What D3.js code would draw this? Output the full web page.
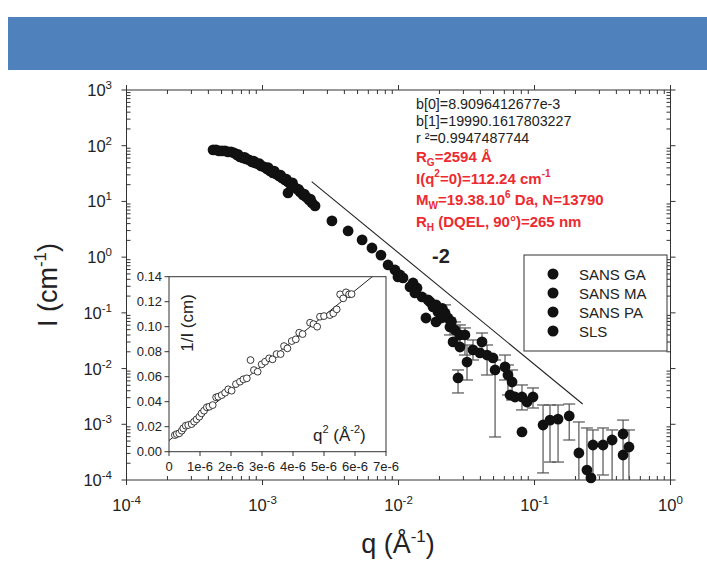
<!DOCTYPE html>
<html><head><meta charset="utf-8">
<script src="https://cdn.jsdelivr.net/npm/d3@7"></script>
<style>body{margin:0;background:#fff} svg{display:block} text{font-family:"Liberation Sans",Arial,sans-serif}</style>
</head><body><svg id="c" width="707" height="563"></svg>
<script>
// ---------- DATA ----------
const seriesNames = ["SANS GA","SANS MA","SANS PA","SLS"];
const xTickExps = [-4,-3,-2,-1,0];
const yTickExps = [-4,-3,-2,-1,0,1,2,3];

const slsQ = [4.33e-4,4.55e-4,4.79e-4,5.04e-4,5.30e-4,5.58e-4,5.87e-4,6.17e-4,6.49e-4,6.83e-4,7.19e-4,7.56e-4,7.96e-4,8.37e-4,8.81e-4,9.27e-4,9.75e-4,1.026e-3,1.079e-3,1.135e-3,1.194e-3,1.257e-3,1.322e-3,1.391e-3,1.463e-3,1.540e-3,1.620e-3,1.705e-3,1.794e-3,1.887e-3,1.986e-3,2.089e-3,2.198e-3,2.312e-3,2.433e-3,
  6.6e-4,7.4e-4,8.6e-4,9.5e-4,1.10e-3,1.22e-3,1.36e-3,1.50e-3,1.54e-3,1.66e-3,1.84e-3,2.03e-3,2.25e-3];
const slsI = [84.1,84.1,80.7,80.7,80.7,77.4,77.4,74.3,68.4,62.9,60.4,58.0,55.6,51.2,49.1,47.1,43.4,41.6,38.4,35.3,32.5,31.2,28.7,26.4,24.3,22.4,19.8,18.2,16.7,14.8,13.1,12.1,10.6,9.40,8.30,
  70.0,62.0,53.0,47.5,40.5,35.0,29.5,25.0,14.2,21.5,16.5,13.5,11.0];

const gaQ = [3.24e-3,4.26e-3,5.40e-3,6.38e-3,7.43e-3];
const gaI = [4.47,2.95,2.04,1.46,1.09];

const maQ  = [8.38e-3,9.42e-3,1.026e-2,1.079e-2,1.216e-2,1.279e-2,1.368e-2,1.489e-2,1.648e-2,1.706e-2,1.592e-2,1.795e-2,1.888e-2,1.95e-2,2.055e-2,2.20e-2,2.31e-2,2.39e-2,2.60e-2,2.52e-2,2.83e-2,3.08e-2,2.83e-2,3.19e-2,
  9.91e-3,1.32e-2,1.888e-2,2.10e-2,2.45e-2];
const maI  = [0.724,0.589,0.479,0.424,0.292,0.344,0.280,0.193,0.171,0.157,0.0809,0.128,0.0687,0.104,0.0809,0.0995,0.0809,0.0558,0.0493,0.0301,0.0401,0.0401,0.0244,0.0131,
  0.441,0.228,0.139,0.120,0.0700];
const maLo = [null,null,null,null,null,null,null,null,null,null,null,null,null,null,null,0.0687,null,0.0401,0.0326,null,0.0265,0.0175,null,0.00624,null,null,null,null,null];
const maHi = [null,null,null,null,null,null,null,null,null,null,null,null,null,null,null,0.139,null,0.0809,0.0687,null,0.0607,0.0536,null,0.0265,null,null,null,null,null];

const paQ  = [2.74e-2,3.53e-2,4.11e-2,3.97e-2,4.48e-2,4.95e-2,5.13e-2,6.07e-2,6.38e-2,6.84e-2,6.61e-2,7.19e-2,8.09e-2,8.81e-2,9.75e-2,8.09e-2,0.1156,0.130,0.149,0.180,0.212,0.243,0.260,0.269,0.319,0.372,0.448,0.495,0.448];
const paI  = [6.78e-3,0.0216,0.0301,0.0191,0.0175,0.0155,9.44e-3,0.0107,7.67e-3,5.74e-3,3.36e-3,3.09e-3,3.09e-3,2.51e-3,3.09e-3,7.28e-4,9.70e-4,1.19e-3,1.24e-3,1.41e-3,3.05e-4,1.51e-4,1.09e-4,4.25e-4,4.25e-4,5.22e-4,6.70e-4,3.91e-4,2.81e-4];
const paLo = [3.65e-3,0.01425,0.0199,null,7.67e-3,null,5.92e-4,6.24e-3,3.36e-3,2.73e-3,null,null,1.81e-3,null,1.96e-3,null,1.34e-4,2.10e-4,2.10e-4,5.22e-4,1e-4,1e-4,null,1e-4,1.23e-4,1e-4,1e-4,1e-4,null];
const paHi = [9.44e-3,0.0326,0.0435,null,0.0265,null,0.01425,0.0175,0.0116,9.44e-3,null,null,5.08e-3,null,4.49e-3,null,2.22e-3,2.22e-3,2.22e-3,2.31e-3,1.10e-3,8.59e-4,null,7.91e-4,8.59e-4,7.91e-4,1.19e-3,7.91e-4,null];

const refLineQ = [2.30e-3, 0.226];
const refLineI = [22.7, 2.31e-3];

const fitText = ["b[0]=8.9096412677e-3","b[1]=19990.1617803227","r \u00b2=0.9947487744"];

// inset: q^2 (Å^-2) vs 1/I (cm)
const insetQ2 = [0.19e-6,0.25e-6,0.33e-6,0.41e-6,0.46e-6,0.54e-6,0.62e-6,0.73e-6,0.81e-6,0.89e-6,0.98e-6,1.05e-6,1.13e-6,1.22e-6,1.30e-6,1.41e-6,1.52e-6,1.59e-6,1.70e-6,1.81e-6,1.91e-6,2.02e-6,2.16e-6,2.29e-6,2.40e-6,2.51e-6,2.63e-6,2.74e-6,2.86e-6,2.99e-6,3.10e-6,3.23e-6,3.34e-6,3.47e-6,3.60e-6,3.71e-6,3.82e-6,3.96e-6,4.09e-6,4.20e-6,4.31e-6,4.55e-6,4.66e-6,4.78e-6,4.87e-6,5.00e-6,5.19e-6,5.30e-6,5.41e-6,5.52e-6,5.62e-6,5.71e-6,5.81e-6,5.89e-6];
const insetInvI = [0.0133,0.0141,0.0147,0.0168,0.0187,0.0208,0.0213,0.0221,0.0240,0.0259,0.0280,0.0307,0.0328,0.0355,0.0360,0.0373,0.0435,0.0440,0.0453,0.0472,0.0499,0.0488,0.0541,0.0560,0.0579,0.0587,0.0733,0.0653,0.0640,0.0699,0.0720,0.0747,0.0739,0.0781,0.0781,0.0845,0.0827,0.0885,0.0899,0.0952,0.0941,0.1032,0.1021,0.1000,0.1080,0.1085,0.1093,0.1107,0.1139,0.1259,0.1227,0.1275,0.1259,0.1261];
const insetXTicks = [0,1e-6,2e-6,3e-6,4e-6,5e-6,6e-6,7e-6];
const insetXLabels = ["0","1e-6","2e-6","3e-6","4e-6","5e-6","6e-6","7e-6"];
const insetYTicks = [0,0.02,0.04,0.06,0.08,0.10,0.12,0.14];
const insetFit = [8.9096412677e-3, 19990.1617803227];

// ---------- DRAW ----------
const svg = d3.select("#c");
svg.append("rect").attr("x",8).attr("y",17).attr("width",699).attr("height",53).attr("fill","#4f81bd");

const x = d3.scaleLog().domain([1e-4,1]).range([126.5,670.5]);
const y = d3.scaleLog().domain([1e-4,1e3]).range([480,90]);
const axisCol = "#333";

const g = svg.append("g");
g.append("rect").attr("x",x.range()[0]).attr("y",y.range()[1]).attr("width",x.range()[1]-x.range()[0]).attr("height",y.range()[0]-y.range()[1]).attr("fill","none").attr("stroke",axisCol).attr("stroke-width",1);

const majX = xTickExps.map(e=>Math.pow(10,e));
const minX = []; xTickExps.slice(0,-1).forEach(e=>{for(let m=2;m<10;m++) minX.push(m*Math.pow(10,e));});
const majY = yTickExps.map(e=>Math.pow(10,e));
const minY = []; yTickExps.slice(0,-1).forEach(e=>{for(let m=2;m<10;m++) minY.push(m*Math.pow(10,e));});
const [x0,x1] = x.range(); const [yb,yt] = y.range();
const tk = g.append("g").attr("stroke",axisCol).attr("stroke-width",1);
majX.forEach(v=>{const p=x(v);
  tk.append("line").attr("x1",p).attr("x2",p).attr("y1",yb).attr("y2",yb+5);
  tk.append("line").attr("x1",p).attr("x2",p).attr("y1",yt).attr("y2",yt-5);});
minX.forEach(v=>{const p=x(v);
  tk.append("line").attr("x1",p).attr("x2",p).attr("y1",yb).attr("y2",yb-4);
  tk.append("line").attr("x1",p).attr("x2",p).attr("y1",yt).attr("y2",yt+4);});
majY.forEach(v=>{const p=y(v);
  tk.append("line").attr("x1",x0).attr("x2",x0-5).attr("y1",p).attr("y2",p);
  tk.append("line").attr("x1",x1).attr("x2",x1+5).attr("y1",p).attr("y2",p);});
minY.forEach(v=>{const p=y(v);
  tk.append("line").attr("x1",x0).attr("x2",x0+4).attr("y1",p).attr("y2",p);
  tk.append("line").attr("x1",x1).attr("x2",x1-4).attr("y1",p).attr("y2",p);});

xTickExps.forEach(e=>{
  const t = g.append("text").attr("x",x(Math.pow(10,e))).attr("y",511).attr("text-anchor","middle").attr("font-size",16.5).attr("fill","#222");
  t.append("tspan").text("10");
  t.append("tspan").attr("dy",-7).attr("font-size",11.5).text(e);
});
yTickExps.forEach(e=>{
  const t = g.append("text").attr("x",112).attr("y",y(Math.pow(10,e))+6).attr("text-anchor","end").attr("font-size",16.5).attr("fill","#222");
  t.append("tspan").text("10");
  t.append("tspan").attr("dy",-7).attr("font-size",11.5).text(e);
});
{
  const t = svg.append("text").attr("transform","translate(57,285) rotate(-90)").attr("text-anchor","middle").attr("font-size",27).attr("fill","#222");
  t.append("tspan").text("I (cm");
  t.append("tspan").attr("dy",-11).attr("font-size",17).text("-1");
  t.append("tspan").attr("dy",11).text(")");
}
{
  const t = svg.append("text").attr("x",398).attr("y",553).attr("text-anchor","middle").attr("font-size",27).attr("fill","#222");
  t.append("tspan").text("q (\u00c5");
  t.append("tspan").attr("dy",-11).attr("font-size",17).text("-1");
  t.append("tspan").attr("dy",11).text(")");
}

g.append("line").attr("x1",x(refLineQ[0])).attr("y1",y(refLineI[0])).attr("x2",x(refLineQ[1])).attr("y2",y(refLineI[1])).attr("stroke","#222").attr("stroke-width",1.1);
g.append("text").attr("x",432).attr("y",263).attr("font-size",20).attr("font-weight","bold").attr("fill","#222").text("-2");

fitText.forEach((s,i)=>{
  g.append("text").attr("x",416).attr("y",109+i*17).attr("font-size",14.3).attr("fill","#222").text(s);
});
const red = "#ed2a2f";
function redLine(yy, parts){
  const t = g.append("text").attr("x",416).attr("y",yy).attr("font-size",15).attr("font-weight","bold").attr("fill",red);
  parts.forEach(p=>{
    const s = t.append("tspan").text(p.t);
    if(p.sub){ s.attr("dy",4).attr("font-size",10); }
    else if(p.sup){ s.attr("dy",-7).attr("font-size",10); }
    if(p.back) s.attr("dy",p.back);
  });
}
redLine(162,[{t:"R"},{t:"G",sub:1},{t:"=2594 \u00c5",back:-4}]);
redLine(184,[{t:"I(q"},{t:"2",sup:1},{t:"=0)=112.24 cm",back:7},{t:"-1",sup:1}]);
redLine(205,[{t:"M"},{t:"W",sub:1},{t:"=19.38.10",back:-4},{t:"6",sup:1},{t:" Da, N=13790",back:7}]);
redLine(227,[{t:"R"},{t:"H",sub:1},{t:" (DQEL, 90\u00b0)=265 nm",back:-4}]);

const eb = g.append("g").attr("stroke","#555").attr("stroke-width",1.2);
function errBars(Q,I,Lo,Hi){
  Q.forEach((q,i)=>{
    if(Lo[i]==null) return;
    const px=x(q), a=y(Math.max(Lo[i],1e-4)), b=y(Hi[i]);
    eb.append("line").attr("x1",px).attr("x2",px).attr("y1",a).attr("y2",b);
    eb.append("line").attr("x1",px-6).attr("x2",px+6).attr("y1",b).attr("y2",b);
    if(Lo[i]>1e-4) eb.append("line").attr("x1",px-6).attr("x2",px+6).attr("y1",a).attr("y2",a);
  });
}
errBars(maQ,maI,maLo,maHi);
errBars(paQ,paI,paLo,paHi);

const pts = g.append("g").attr("fill","#111");
function dots(Q,I){ Q.forEach((q,i)=>pts.append("circle").attr("cx",x(q)).attr("cy",y(I[i])).attr("r",5.4)); }
dots(slsQ,slsI); dots(gaQ,gaI); dots(maQ,maI); dots(paQ,paI);

const lg = svg.append("g");
lg.append("rect").attr("x",524).attr("y",255).attr("width",143).attr("height",96).attr("fill","#fff").attr("stroke",axisCol).attr("stroke-width",1);
seriesNames.forEach((n,i)=>{
  const yy = 274 + i*19;
  lg.append("circle").attr("cx",553).attr("cy",yy).attr("r",5.5).attr("fill","#111");
  lg.append("text").attr("x",579).attr("y",yy+5.5).attr("font-size",15).attr("fill","#222").text(n);
});

const ix = d3.scaleLinear().domain([0,7e-6]).range([169,386]);
const iy = d3.scaleLinear().domain([0,0.14]).range([451.7,276.7]);
const ig = svg.append("g");
ig.append("rect").attr("x",169).attr("y",276.7).attr("width",217).attr("height",175).attr("fill","#fff").attr("stroke",axisCol).attr("stroke-width",1);
svg.append("defs").append("clipPath").attr("id","ic").append("rect").attr("x",169).attr("y",276.7).attr("width",217).attr("height",175);
insetXTicks.forEach((v,i)=>{
  ig.append("line").attr("x1",ix(v)).attr("x2",ix(v)).attr("y1",451.7).attr("y2",456).attr("stroke",axisCol);
  ig.append("text").attr("x",ix(v)).attr("y",471).attr("text-anchor","middle").attr("font-size",13).attr("fill","#222").text(insetXLabels[i]);
});
insetYTicks.forEach(v=>{
  ig.append("line").attr("x1",169).attr("x2",164.5).attr("y1",iy(v)).attr("y2",iy(v)).attr("stroke",axisCol);
  ig.append("text").attr("x",162).attr("y",iy(v)+4.5).attr("text-anchor","end").attr("font-size",13).attr("fill","#222").text(v.toFixed(2));
});
ig.append("line").attr("clip-path","url(#ic)")
  .attr("x1",ix(0)).attr("y1",iy(insetFit[0])).attr("x2",ix(7e-6)).attr("y2",iy(insetFit[0]+insetFit[1]*7e-6))
  .attr("stroke","#222").attr("stroke-width",1);
insetQ2.forEach((q,i)=>{
  ig.append("circle").attr("cx",ix(q)).attr("cy",iy(insetInvI[i])).attr("r",3.4).attr("fill","#fff").attr("stroke","#222").attr("stroke-width",0.9);
});
ig.append("text").attr("transform","translate(193,323) rotate(-90)").attr("text-anchor","middle").attr("font-size",17).attr("fill","#222").text("1/I (cm)");
{
  const t = ig.append("text").attr("x",313).attr("y",441).attr("font-size",17).attr("fill","#222");
  t.append("tspan").text("q");
  t.append("tspan").attr("dy",-8).attr("font-size",11).text("2");
  t.append("tspan").attr("dy",8).text(" (\u00c5");
  t.append("tspan").attr("dy",-8).attr("font-size",11).text("-2");
  t.append("tspan").attr("dy",8).text(")");
}
</script></body></html>
